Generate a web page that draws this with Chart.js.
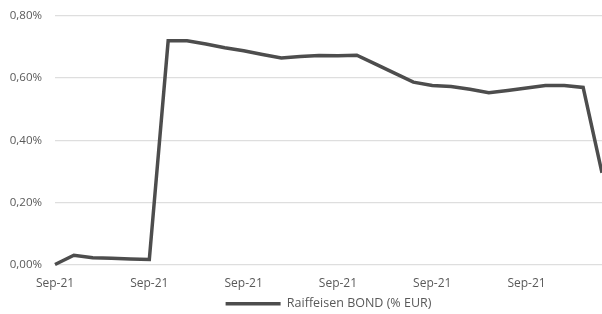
<!DOCTYPE html>
<html>
<head>
<meta charset="utf-8">
<script src="https://cdn.jsdelivr.net/npm/chart.js@4/dist/chart.umd.min.js"></script>
<style>
html,body{margin:0;padding:0;background:#fff;}
#wrap{width:602px;height:314px;position:relative;}
</style>
</head>
<body>
<div id="wrap"><canvas id="c" width="602" height="314"></canvas></div>
<script>
const categories = ["Sep-21","Sep-21","Sep-21","Sep-21","Sep-21","Sep-21","Sep-21","Sep-21","Sep-21","Sep-21",
  "Sep-21","Sep-21","Sep-21","Sep-21","Sep-21","Sep-21","Sep-21","Sep-21","Sep-21","Sep-21",
  "Sep-21","Sep-21","Sep-21","Sep-21","Sep-21","Sep-21","Sep-21","Sep-21","Sep-21","Sep-21"];
const seriesName = "Raiffeisen BOND (% EUR)";
const seriesValues = [0.000,0.030,0.022,0.020,0.018,0.016,0.720,0.720,0.710,0.698,
  0.688,0.676,0.665,0.670,0.673,0.672,0.674,0.645,0.616,0.587,
  0.576,0.573,0.564,0.553,0.560,0.568,0.576,0.576,0.570,0.295];
const yTicks = [0,0.2,0.4,0.6,0.8];
const labelEvery = 5;

const textColor = '#595959';
const lineColor = '#4d4d4d';
Chart.defaults.font.family = "'Open Sans', sans-serif";
Chart.defaults.font.size = 12;
Chart.defaults.color = textColor;

new Chart(document.getElementById('c'), {
  type: 'line',
  data: {
    labels: categories,
    datasets: [{
      label: seriesName,
      data: seriesValues,
      borderColor: lineColor,
      backgroundColor: lineColor,
      borderWidth: 3.5,
      pointRadius: 0,
      pointStyle: 'line',
      tension: 0,
      clip: 4
    }]
  },
  options: {
    responsive: false,
    animation: false,
    layout: { padding: { left: 0, right: 0, top: 16, bottom: -6 } },
    plugins: {
      tooltip: { enabled: false },
      legend: {
        position: 'bottom',
        fullSize: false,
        labels: { usePointStyle: true, pointStyle: 'line', pointStyleWidth: 55, padding: 1, color: textColor, font: { size: 12.5 } }
      }
    },
    scales: {
      x: {
        offset: false,
        grid: { display: false, drawTicks: false },
        border: { display: false },
        ticks: {
          autoSkip: false, maxRotation: 0, padding: 12, color: textColor,
          callback: function(v, i) { return i % labelEvery === 0 ? categories[i] : ''; }
        },
        afterFit: function(s) { s.height = 32; s.paddingRight = 0; s.paddingLeft = 0; }
      },
      y: {
        min: yTicks[0], max: yTicks[yTicks.length-1],
        afterBuildTicks: function(s) { s.ticks = yTicks.map(v => ({ value: v })); },
        grid: { color: '#dedede', lineWidth: 1.3, drawTicks: false },
        border: { display: false },
        ticks: {
          padding: 13, color: textColor, font: { size: 11.5 },
          callback: function(v) { return v.toFixed(2).replace('.', ',') + '%'; }
        },
        afterFit: function(s) { s.width = 55; s.paddingTop = 0; s.paddingBottom = 0; }
      }
    }
  }
});
</script>
</body>
</html>
